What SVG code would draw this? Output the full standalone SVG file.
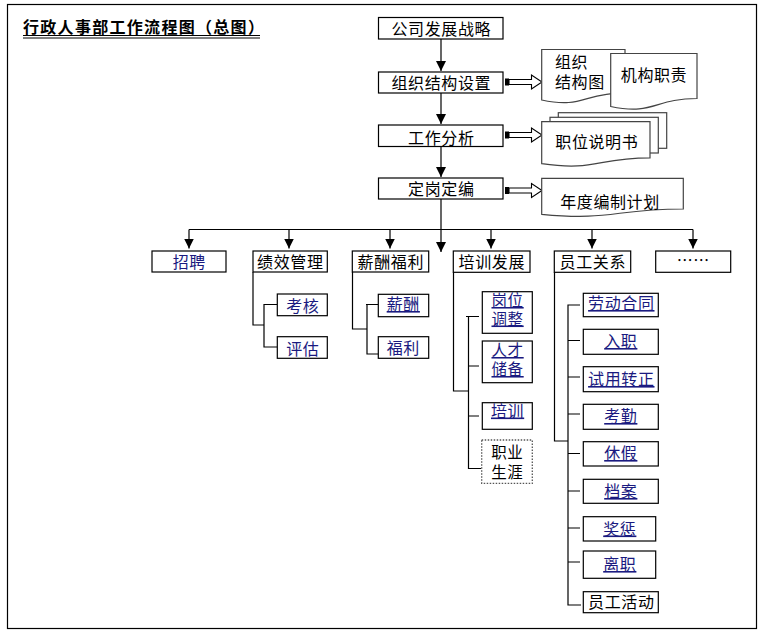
<svg xmlns="http://www.w3.org/2000/svg" width="763" height="635" viewBox="0 0 763 635">
<defs>
<style>
text{font-family:"Noto Sans CJK SC","Noto Sans",sans-serif;font-size:16px;fill:#000;letter-spacing:0.6px;}
.c{text-anchor:middle;}
.b{fill:#1a1a80;}
.u{text-decoration:underline;}
.s{font-size:15.5px;}
.box{fill:#fff;stroke:#000;stroke-width:1.2;}
.dot{fill:#fff;stroke:#555;stroke-width:1.3;stroke-dasharray:1.5 1.5;}
.doc{fill:#fff;stroke:#444;stroke-width:1.2;}
.ln{fill:none;stroke:#000;stroke-width:1.2;}
.ar{fill:none;stroke:#000;stroke-width:1.2;marker-end:url(#ah);}
.blk{fill:#fff;stroke:#000;stroke-width:1.1;}
</style>
<marker id="ah" viewBox="0 0 10 10" refX="10" refY="5" markerWidth="10" markerHeight="10" markerUnits="userSpaceOnUse" orient="auto">
<path d="M0,0 L10,5 L0,10 Z" fill="#000"/>
</marker>
</defs>
<rect width="763" height="635" fill="#fff"/>
<rect x="7.5" y="4.5" width="749" height="624" fill="none" stroke="#000" stroke-width="1.2"/>

<g id="title">
<text x="23" y="32.5" style="font-weight:bold;letter-spacing:1.3px">行政人事部工作流程图（总图）</text>
<line x1="23" y1="35.5" x2="260" y2="35.5" stroke="#000" stroke-width="1"/>
<line x1="23" y1="38" x2="260" y2="38" stroke="#000" stroke-width="1"/>
</g>

<g id="connectors">
<line class="ar" x1="441" y1="39" x2="441" y2="71"/>
<line class="ar" x1="441" y1="93" x2="441" y2="124"/>
<line class="ar" x1="441" y1="147" x2="441" y2="177"/>
<line class="ar" x1="441" y1="199" x2="441" y2="252"/>
<line class="ln" x1="189" y1="229.5" x2="693" y2="229.5"/>
<line class="ar" x1="189" y1="229.5" x2="189" y2="248.5"/>
<line class="ar" x1="289" y1="229.5" x2="289" y2="248.5"/>
<line class="ar" x1="390" y1="229.5" x2="390" y2="248.5"/>
<line class="ar" x1="491" y1="229.5" x2="491" y2="248.5"/>
<line class="ar" x1="592" y1="229.5" x2="592" y2="248.5"/>
<line class="ar" x1="693" y1="229.5" x2="693" y2="248.5"/>
<rect x="505" y="78.5" width="4" height="7" fill="#000"/>
<path class="blk" d="M509,79.5 H531.5 V75 L542,82 L531.5,89 V84.5 H509 Z"/>
<rect x="505" y="131.5" width="4" height="7" fill="#000"/>
<path class="blk" d="M509,132.5 H531.5 V128 L542,135 L531.5,142 V137.5 H509 Z"/>
<rect x="505" y="187" width="4" height="7" fill="#000"/>
<path class="blk" d="M509,188 H531.5 V183.5 L542,190.5 L531.5,197.5 V193 H509 Z"/>
<path class="ln" d="M253,272 V325 H264"/>
<path class="ln" d="M277,304.5 H264 V347 H277"/>
<path class="ln" d="M352.5,272 V329 H367"/>
<path class="ln" d="M378,304.5 H366 M367,304.5 V354 H378"/>
<path class="ln" d="M453.5,272 V391 H468.5"/>
<path class="ln" d="M466,316.5 H479 M468.5,316.5 V468.5 H481 M468.5,366 H479 M468.5,416 H479"/>
<path class="ln" d="M554.5,272 V441 H568"/>
<path class="ln" d="M580,305 H568 V605 H581 M568,340.5 H580 M568,377 H580 M568,414 H580 M568,453.5 H580 M568,491 H580 M568,528 H580 M568,562 H580"/>
</g>

<g id="n-strategy"><rect class="box" x="378.5" y="17.5" width="124.5" height="21.5"/><text class="c" x="441.3" y="35">公司发展战略</text></g>
<g id="n-org"><rect class="box" x="378.5" y="72" width="124.5" height="21"/><text class="c" x="441.3" y="89">组织结构设置</text></g>
<g id="n-job"><rect class="box" x="378.5" y="125" width="124.5" height="21.5"/><text class="c" x="441.3" y="143.5">工作分析</text></g>
<g id="n-post"><rect class="box" x="378.5" y="178" width="124.5" height="21"/><text class="c" x="441.3" y="195">定岗定编</text></g>

<g id="d-orgchart"><path class="doc" d="M541.7,49.5 H625 V92.8 C583,92.8 583,109 541.7,100 Z"/><text x="555" y="67.7"><tspan x="555" y="67.7">组织</tspan><tspan x="555" y="87.7">结构图</tspan></text></g>
<g id="d-duty"><path class="doc" d="M610.7,53.5 H697 V98.5 C654,98.5 654,115.5 610.7,106.5 Z"/><text class="c" x="654" y="81">机构职责</text></g>
<g id="d-jd"><rect class="doc" x="558.3" y="112.7" width="108.4" height="35.6"/><rect class="doc" x="550" y="117.3" width="108.3" height="35.7"/><path class="doc" d="M541.7,121.7 H650 V157.8 C596,157.8 596,171.5 541.7,163.7 Z"/><text class="c" x="596.8" y="147.7">职位说明书</text></g>
<g id="d-plan"><path class="doc" d="M541.7,178.3 H683.3 V209 C612.5,209 612.5,221 541.7,214.3 Z"/><text class="c" x="610" y="207.7">年度编制计划</text></g>

<g id="n-recruit"><rect class="box" x="152" y="251" width="74" height="21"/><text class="c b" x="189.3" y="268">招聘</text></g>
<g id="n-perf"><rect class="box" x="253" y="251" width="74.3" height="21"/><text class="c" x="290.3" y="268">绩效管理</text></g>
<g id="n-pay"><rect class="box" x="352.3" y="251" width="76.4" height="21"/><text class="c" x="390.8" y="268">薪酬福利</text></g>
<g id="n-train"><rect class="box" x="453.3" y="251" width="76.7" height="21.3"/><text class="c" x="491.8" y="268">培训发展</text></g>
<g id="n-rel"><rect class="box" x="554.3" y="251" width="76.4" height="21.3"/><text class="c" x="592.8" y="268">员工关系</text></g>
<g id="n-more"><rect class="box" x="655.7" y="251" width="75" height="21.3"/><text class="c" x="693.3" y="266">……</text></g>

<g id="n-assess"><rect class="box" x="277.3" y="294" width="50" height="21.7"/><text class="c b" x="302.8" y="311.5">考核</text></g>
<g id="n-eval"><rect class="box" x="277.3" y="336.7" width="50" height="21.6"/><text class="c b" x="302.8" y="355">评估</text></g>

<g id="n-salary"><rect class="box" x="378.3" y="294.3" width="50.4" height="22.4"/><text class="c b u" x="403.3" y="310">薪酬</text></g>
<g id="n-welfare"><rect class="box" x="378.3" y="336.7" width="50.4" height="21.6"/><text class="c b" x="403.3" y="353.5">福利</text></g>

<g id="n-adjust"><rect class="box" x="482.3" y="291.7" width="50" height="41.6"/><text class="c b u s" x="507.6" y="306"><tspan x="507.6" y="306">岗位</tspan><tspan x="507.6" y="324.5">调整</tspan></text></g>
<g id="n-talent"><rect class="box" x="482.3" y="341" width="50" height="41.7"/><text class="c b u s" x="507.6" y="356"><tspan x="507.6" y="356">人才</tspan><tspan x="507.6" y="375">储备</tspan></text></g>
<g id="n-training"><rect class="box" x="482.3" y="402.7" width="50" height="26.6"/><text class="c b u" x="507.6" y="416.5">培训</text></g>
<g id="n-career"><rect class="dot" x="481.7" y="440" width="50.6" height="43.3"/><text class="c s" x="507.3" y="457.7"><tspan x="507.3" y="457.7">职业</tspan><tspan x="507.3" y="477.7">生涯</tspan></text></g>

<g id="n-contract"><rect class="box" x="583.3" y="293.3" width="75" height="23.4"/><text class="c b u" x="621.3" y="309">劳动合同</text></g>
<g id="n-entry"><rect class="box" x="583.3" y="329.3" width="75" height="25"/><text class="c b u" x="620.8" y="347">入职</text></g>
<g id="n-probation"><rect class="box" x="583.3" y="366.7" width="75" height="25"/><text class="c b u" x="621.3" y="385">试用转正</text></g>
<g id="n-attend"><rect class="box" x="583.3" y="404.3" width="75" height="25"/><text class="c b u" x="620.8" y="422">考勤</text></g>
<g id="n-leave"><rect class="box" x="583.3" y="441.7" width="75" height="24.3"/><text class="c b u" x="620.8" y="459">休假</text></g>
<g id="n-file"><rect class="box" x="583.3" y="479.3" width="75" height="24"/><text class="c b u" x="620.8" y="497">档案</text></g>
<g id="n-reward"><rect class="box" x="583.3" y="516.7" width="72.4" height="24.3"/><text class="c b u" x="619.8" y="534.5">奖惩</text></g>
<g id="n-quit"><rect class="box" x="583.3" y="551" width="72.4" height="27.3"/><text class="c b u" x="619.8" y="570">离职</text></g>
<g id="n-activity"><rect class="box" x="583.3" y="591.7" width="75" height="21"/><text class="c" x="621.3" y="608">员工活动</text></g>
</svg>
